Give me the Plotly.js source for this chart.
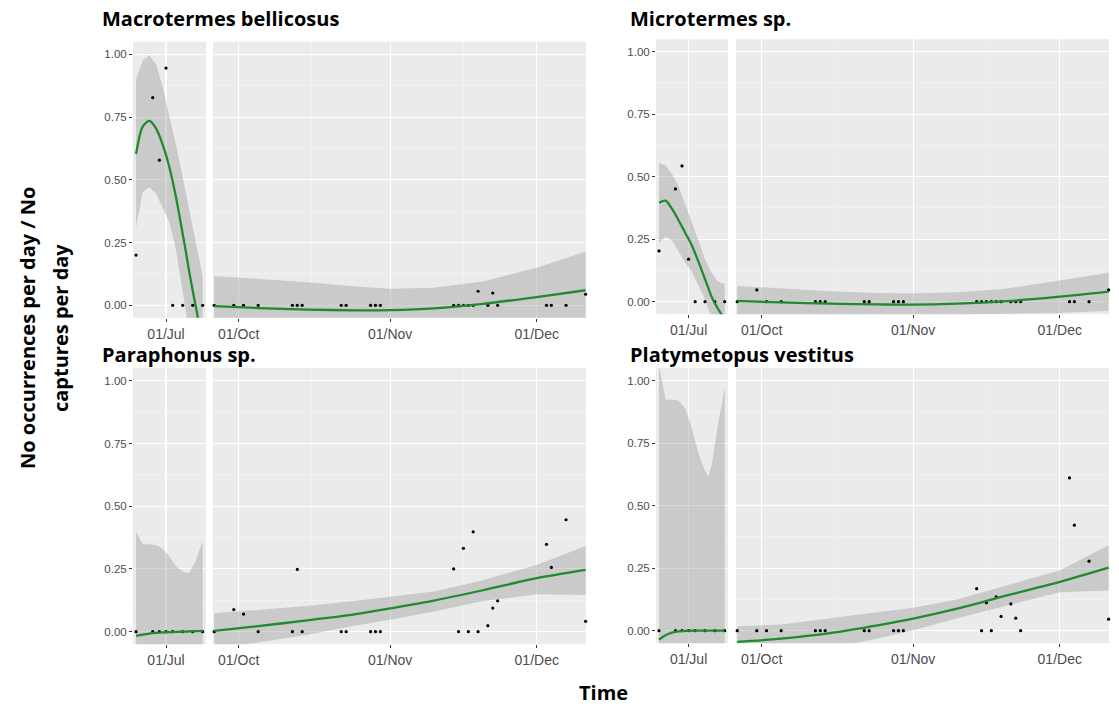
<!DOCTYPE html>
<html><head><meta charset="utf-8">
<script src="https://cdn.plot.ly/plotly-3.0.1.min.js"></script>
<style>html,body{margin:0;padding:0;background:#fff}#chart{width:1119px;height:706px}</style>
</head><body><div id="chart"></div>
<script>
// ---------- DATA ----------
const species = ['Macrotermes bellicosus', 'Microtermes sp.', 'Paraphonus sp.', 'Platymetopus vestitus'];

const earlyDates = ['2019-06-22','2019-06-27','2019-06-29','2019-07-01','2019-07-03','2019-07-06','2019-07-09','2019-07-12'];
const lateDates = ['2019-09-26','2019-09-30','2019-10-02','2019-10-05','2019-10-12','2019-10-13','2019-10-14',
  '2019-10-22','2019-10-23','2019-10-28','2019-10-29','2019-10-30','2019-11-14','2019-11-15','2019-11-16',
  '2019-11-17','2019-11-18','2019-11-19','2019-11-21','2019-11-22','2019-11-23','2019-12-03','2019-12-04',
  '2019-12-07','2019-12-11'];

// observed values
const macroEarly = [0.20, 0.827, 0.578, 0.945, 0, 0, 0, 0];
const macroLate  = [0,0,0,0,0,0,0,0,0,0,0,0,0,0,0,0,0,0.056,0,0.049,0,0,0,0,0.044];
const microEarly = [0.203, 0.451, 0.543, 0.17, 0, 0, 0, 0];
const microLate  = [0,0.047,0,0,0,0,0,0,0,0,0,0,0,0,0,0,0,0,0,0,0,0,0,0,0.047];
const paraEarly  = [0, 0, 0, 0, 0, 0, 0, 0];
const paraLate   = [0,0.088,0.07,0,0,0.248,0,0,0,0,0,0,0.25,0,0.332,0,0.398,0,0.024,0.094,0.123,0.348,0.256,0.446,0.041];
const platyEarly = [0, 0, 0, 0, 0, 0, 0, 0];
const platyLate  = [0,0,0,0,0,0,0,0,0,0,0,0,0.168,0,0.112,0,0.135,0.057,0.107,0.05,0,0.611,0.422,0.278,0.046];

// smoothed fit with confidence band
const fitEarlyDates = ['2019-06-22','2019-06-24','2019-06-26','2019-06-28','2019-06-30','2019-07-02','2019-07-04','2019-07-06','2019-07-07','2019-07-08','2019-07-10','2019-07-12'];
const fitLateDates = ['2019-09-26','2019-10-05','2019-10-15','2019-10-25','2019-11-01','2019-11-10','2019-11-20','2019-12-01','2019-12-11'];

const macroFitE = [0.603, 0.712, 0.735, 0.705, 0.64, 0.55, 0.43, 0.285, 0.21, 0.13, -0.01, -0.15];
const macroHiE  = [0.90, 0.975, 0.995, 0.96, 0.87, 0.76, 0.64, 0.51, 0.445, 0.38, 0.24, 0.115];
const macroLoE  = [0.31, 0.45, 0.47, 0.445, 0.39, 0.33, 0.22, 0.06, -0.03, -0.12, -0.26, -0.42];
const macroFitL = [-0.003, -0.011, -0.017, -0.02, -0.019, -0.012, 0.006, 0.033, 0.06];
const macroHiL  = [0.117, 0.105, 0.092, 0.075, 0.066, 0.07, 0.095, 0.15, 0.214];
const macroLoL  = [-0.123, -0.127, -0.126, -0.115, -0.104, -0.094, -0.083, -0.084, -0.094];

const microFitE = [0.396, 0.404, 0.37, 0.325, 0.275, 0.225, 0.16, 0.09, 0.055, 0.02, -0.03, -0.07];
const microHiE  = [0.555, 0.545, 0.51, 0.46, 0.39, 0.32, 0.245, 0.17, 0.14, 0.115, 0.08, 0.07];
const microLoE  = [0.235, 0.26, 0.245, 0.2, 0.155, 0.12, 0.065, 0.01, -0.03, -0.07, -0.14, -0.21];
const microFitL = [0.003, -0.003, -0.008, -0.011, -0.012, -0.008, 0.002, 0.02, 0.04];
const microHiL  = [0.063, 0.052, 0.042, 0.035, 0.033, 0.038, 0.052, 0.085, 0.116];
const microLoL  = [-0.057, -0.058, -0.058, -0.057, -0.057, -0.054, -0.048, -0.045, -0.036];

const paraFitE = [-0.017, -0.012, -0.008, -0.005, -0.003, -0.002, -0.001, 0, 0, 0.001, 0.002, 0.003];
const paraHiE  = [0.398, 0.348, 0.348, 0.345, 0.33, 0.30, 0.26, 0.24, 0.235, 0.235, 0.285, 0.36];
const paraLoE  = [-0.43, -0.37, -0.36, -0.355, -0.34, -0.31, -0.27, -0.24, -0.235, -0.235, -0.28, -0.35];
const paraFitL = [0.003, 0.022, 0.045, 0.07, 0.093, 0.124, 0.165, 0.213, 0.246];
const paraHiL  = [0.073, 0.087, 0.102, 0.123, 0.139, 0.16, 0.205, 0.266, 0.341];
const paraLoL  = [-0.067, -0.043, -0.012, 0.025, 0.047, 0.08, 0.122, 0.149, 0.146];

const platyFitE = [-0.035, -0.018, -0.008, -0.003, -0.001, 0, 0, 0, 0, 0, 0, 0];
const platyHiE  = [1.06, 0.923, 0.925, 0.92, 0.89, 0.81, 0.71, 0.64, 0.617, 0.66, 0.83, 0.97];
const platyLoE  = [-1.13, -0.96, -0.94, -0.93, -0.89, -0.81, -0.71, -0.64, -0.617, -0.66, -0.83, -0.97];
const platyFitL = [-0.045, -0.032, -0.01, 0.022, 0.048, 0.088, 0.14, 0.195, 0.252];
const platyHiL  = [0.018, 0.025, 0.05, 0.076, 0.092, 0.125, 0.18, 0.241, 0.342];
const platyLoL  = [-0.108, -0.09, -0.07, -0.03, 0.002, 0.05, 0.10, 0.154, 0.161];

const yTickVals = [0, 0.25, 0.5, 0.75, 1.0];
const yTickText = ['0.00', '0.25', '0.50', '0.75', '1.00'];
const yTitleLines = ['No occurrences per day / No', 'captures per day'];
const xTitle = 'Time';

// ---------- BUILD ----------
const panels = [
  {name: species[0], e: macroEarly, l: macroLate, fe: macroFitE, he: macroHiE, le: macroLoE, fl: macroFitL, hl: macroHiL, ll: macroLoL},
  {name: species[1], e: microEarly, l: microLate, fe: microFitE, he: microHiE, le: microLoE, fl: microFitL, hl: microHiL, ll: microLoL},
  {name: species[2], e: paraEarly, l: paraLate, fe: paraFitE, he: paraHiE, le: paraLoE, fl: paraFitL, hl: paraHiL, ll: paraLoL},
  {name: species[3], e: platyEarly, l: platyLate, fe: platyFitE, he: platyHiE, le: platyLoE, fl: platyFitL, hl: platyHiL, ll: platyLoL}
];

const W = 1119, H = 706;
const colX = [[[133, 206], [213, 586]], [[656, 728], [736, 1109]]];
const rowY = [[41.75, 317.85], [39.2, 314.2], [368.2, 644.2], [368.2, 643.2]];
const titleX = [100, 628];
const titleY = [19, 19, 354, 354];
const xRanges = [['2019-06-21 02:00', '2019-07-13 00:00'], ['2019-09-25 18:00', '2019-12-11 02:00']];

const GREEN = '#1f8a2e';
const traces = [];
const layout = {
  width: W, height: H,
  margin: {l: 0, r: 0, t: 0, b: 0},
  paper_bgcolor: '#ffffff',
  plot_bgcolor: '#ebebeb',
  showlegend: false,
  annotations: [],
  font: {family: 'Liberation Sans, Arial, sans-serif', color: '#4d4d4d'}
};

const rev = a => a.slice().reverse();

panels.forEach((p, pi) => {
  const col = pi % 2;
  const yd = [1 - rowY[pi][1] / H, 1 - rowY[pi][0] / H];
  [0, 1].forEach(s => {
    const idx = pi * 2 + s + 1;
    const xa = 'x' + (idx === 1 ? '' : idx), ya = 'y' + (idx === 1 ? '' : idx);
    const fitX = s === 0 ? fitEarlyDates : fitLateDates;
    const fit = s === 0 ? p.fe : p.fl;
    const hi = s === 0 ? p.he : p.hl;
    const lo = s === 0 ? p.le : p.ll;
    const ptsX = s === 0 ? earlyDates : lateDates;
    const pts = s === 0 ? p.e : p.l;
    traces.push({
      type: 'scatter', mode: 'lines', xaxis: xa, yaxis: ya,
      x: fitX.concat(rev(fitX)), y: hi.concat(rev(lo)),
      fill: 'toself', fillcolor: 'rgba(153,153,153,0.4)', line: {width: 0}, hoverinfo: 'skip'
    });
    traces.push({
      type: 'scatter', mode: 'markers', xaxis: xa, yaxis: ya,
      x: ptsX, y: pts, marker: {color: '#000', size: 3.2}, cliponaxis: false
    });
    traces.push({
      type: 'scatter', mode: 'lines', xaxis: xa, yaxis: ya,
      x: fitX, y: fit, line: {color: GREEN, width: 2.3, shape: 'spline', smoothing: 0.8}
    });
    const xd = colX[col][s];
    layout['xaxis' + (idx === 1 ? '' : idx)] = {
      type: 'date', domain: [xd[0] / W, xd[1] / W], anchor: ya,
      range: xRanges[s], tickformat: '%d/%b', dtick: 'M1', tick0: '2019-01-01',
      showgrid: true, gridcolor: '#ffffff', gridwidth: 1.1, zeroline: false, showline: false,
      ticks: 'outside', ticklen: 3, tickcolor: '#333333', tickwidth: 1,
      tickfont: {size: 14, color: '#4d4d4d', family: 'Liberation Sans, Arial, sans-serif'},
      minor: {dtick: 'M1', tick0: '2019-01-16', showgrid: true, gridcolor: '#f5f5f5', gridwidth: 0.6, ticks: ''},
      fixedrange: true
    };
    layout['yaxis' + (idx === 1 ? '' : idx)] = {
      domain: yd, anchor: xa, range: [-0.05, 1.05],
      tickvals: yTickVals, ticktext: yTickText, showticklabels: s === 0,
      ticks: s === 0 ? 'outside' : '', ticklen: 3, tickcolor: '#333333', tickwidth: 1,
      tickfont: {size: 11.5, color: '#4d4d4d', family: 'Liberation Sans, Arial, sans-serif'},
      showgrid: true, gridcolor: '#ffffff', gridwidth: 1.1, zeroline: false, showline: false,
      minor: {tickvals: [0.125, 0.375, 0.625, 0.875], showgrid: true, gridcolor: '#f5f5f5', gridwidth: 0.6, ticks: ''},
      fixedrange: true
    };
  });
  layout.annotations.push({
    xref: 'paper', yref: 'paper', x: titleX[col] / W, y: 1 - titleY[pi] / H,
    xanchor: 'left', yanchor: 'middle', showarrow: false,
    text: '<b>' + p.name + '</b>',
    font: {family: 'Open Sans, Noto Sans, sans-serif', size: 20, color: '#000'}
  });
});

layout.annotations.push({
  xref: 'paper', yref: 'paper', x: 27 / W, y: 1 - 328 / H, xanchor: 'center', yanchor: 'middle',
  textangle: -90, showarrow: false, text: '<b>' + yTitleLines[0] + '</b>',
  font: {family: 'Open Sans, Noto Sans, sans-serif', size: 20, color: '#000'}
});
layout.annotations.push({
  xref: 'paper', yref: 'paper', x: 60 / W, y: 1 - 328 / H, xanchor: 'center', yanchor: 'middle',
  textangle: -90, showarrow: false, text: '<b>' + yTitleLines[1] + '</b>',
  font: {family: 'Open Sans, Noto Sans, sans-serif', size: 20, color: '#000'}
});
layout.annotations.push({
  xref: 'paper', yref: 'paper', x: 603 / W, y: 1 - 692 / H, xanchor: 'center', yanchor: 'middle',
  showarrow: false, text: '<b>' + xTitle + '</b>',
  font: {family: 'Open Sans, Noto Sans, sans-serif', size: 20, color: '#000'}
});

Plotly.newPlot('chart', traces, layout, {displayModeBar: false, staticPlot: true});
</script></body></html>
